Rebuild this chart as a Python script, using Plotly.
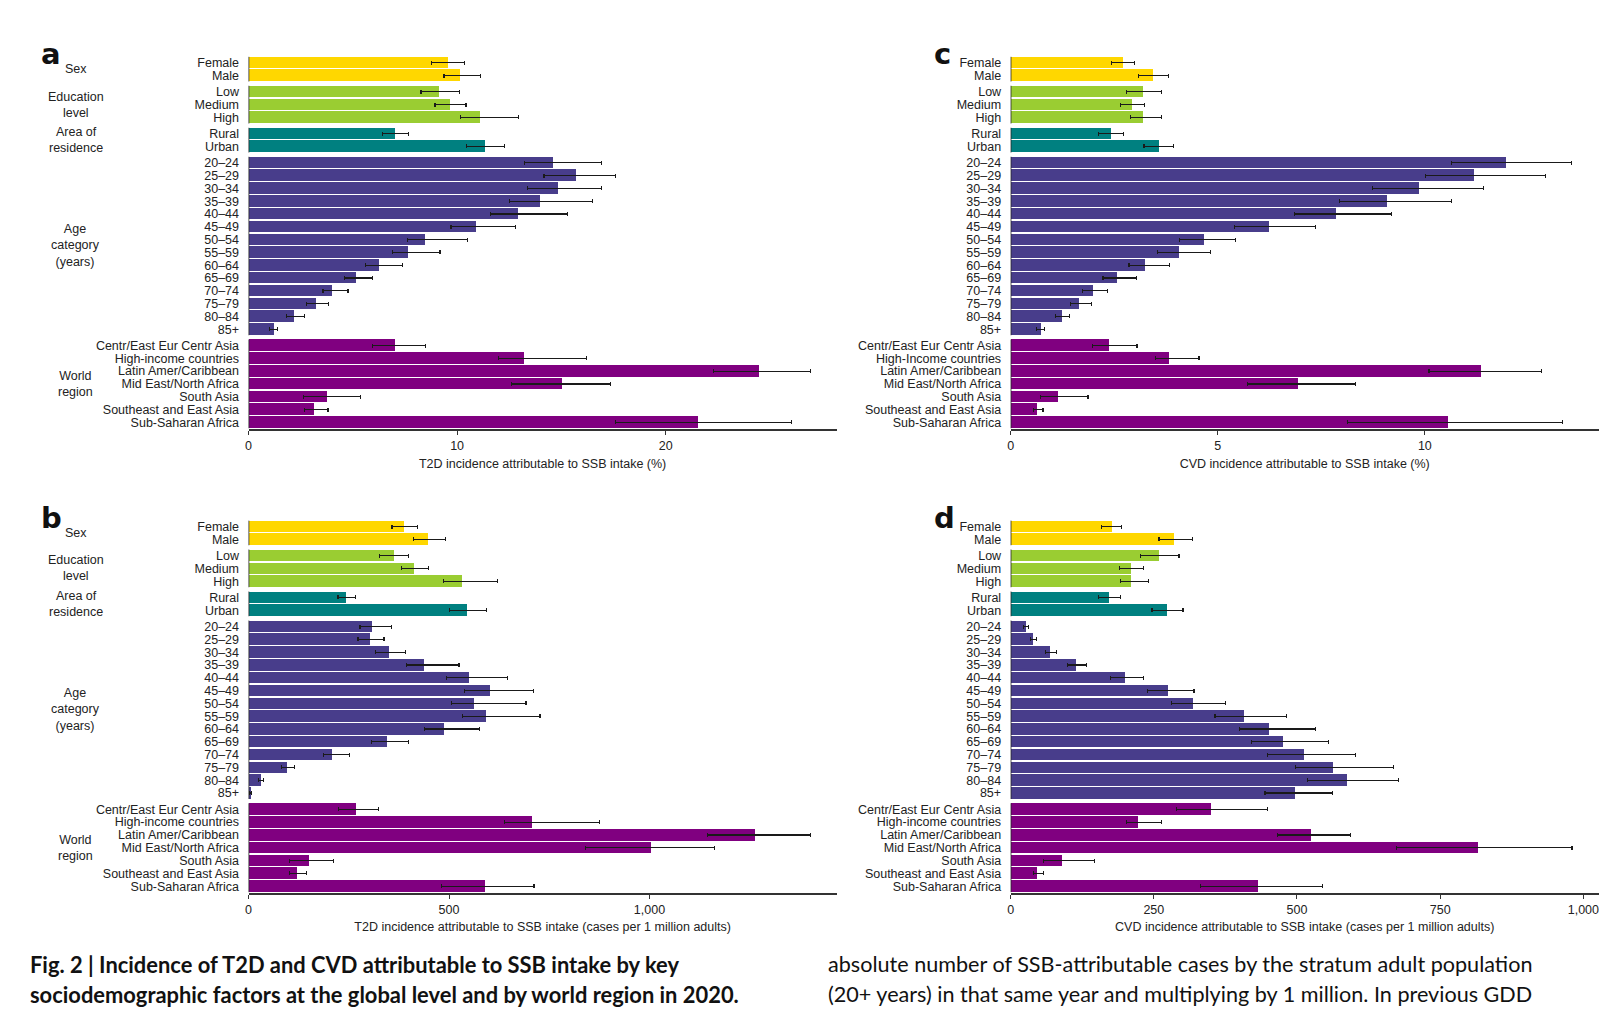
import plotly.graph_objects as go

# categories (top to bottom)
groups = ["Sex", "Education<br>level", "Area of<br>residence", "Age<br>category<br>(years)", "World<br>region"]
group_sizes = [2, 3, 2, 14, 7]
group_colors = ["#FFD700", "#9ACD32", "#008080", "#483D8B", "#800080"]

cats = ["Female", "Male", "Low", "Medium", "High", "Rural", "Urban",
        "20–24", "25–29", "30–34", "35–39", "40–44", "45–49", "50–54", "55–59",
        "60–64", "65–69", "70–74", "75–79", "80–84", "85+",
        "Centr/East Eur Centr Asia", "High-income countries", "Latin Amer/Caribbean",
        "Mid East/North Africa", "South Asia", "Southeast and East Asia", "Sub-Saharan Africa"]
cats_c = cats[:22] + ["High-Income countries"] + cats[23:]

# a: T2D (%)
a_val = [9.52, 10.12, 9.13, 9.66, 11.08, 6.99, 11.33,
         14.58, 15.69, 14.82, 13.95, 12.92, 10.89, 8.46, 7.64, 6.22, 5.11, 4.00, 3.20, 2.14, 1.18,
         6.99, 13.20, 24.43, 15.01, 3.73, 3.11, 21.52]
a_lo = [8.77, 9.37, 8.27, 8.94, 10.17, 6.41, 10.46,
        13.23, 14.17, 13.37, 12.53, 11.59, 9.71, 7.64, 6.89, 5.61, 4.60, 3.57, 2.77, 1.81, 0.99,
        5.93, 12.00, 22.29, 12.60, 2.63, 2.70, 17.59]
a_hi = [10.36, 11.11, 10.12, 10.43, 12.94, 7.66, 12.27,
        16.92, 17.59, 16.92, 16.51, 15.28, 12.80, 10.48, 9.18, 7.40, 5.95, 4.77, 3.83, 2.70, 1.40,
        8.48, 16.22, 26.94, 17.35, 5.35, 3.81, 26.02]

# c: CVD (%)
c_val = [2.70, 3.43, 3.19, 2.92, 3.19, 2.41, 3.58,
         11.96, 11.18, 9.85, 9.08, 7.85, 6.24, 4.65, 4.05, 3.24, 2.56, 1.99, 1.65, 1.24, 0.73,
         2.36, 3.81, 11.35, 6.93, 1.14, 0.63, 10.55]
c_lo = [2.44, 3.09, 2.80, 2.65, 2.90, 2.13, 3.22,
        10.64, 10.01, 8.74, 7.93, 6.85, 5.41, 4.08, 3.55, 2.86, 2.23, 1.73, 1.45, 1.09, 0.63,
        1.98, 3.50, 10.10, 5.71, 0.73, 0.56, 8.13]
c_hi = [2.99, 3.81, 3.65, 3.24, 3.64, 2.72, 3.94,
        13.54, 12.91, 11.42, 10.64, 9.19, 7.36, 5.43, 4.82, 3.83, 3.03, 2.34, 1.96, 1.43, 0.81,
        3.05, 4.55, 12.81, 8.32, 1.87, 0.78, 13.33]

# b: T2D (cases per 1 million adults)
b_val = [387, 447, 361, 412, 531, 243, 544,
         306, 301, 348, 437, 549, 601, 561, 591, 487, 343, 208, 96, 30, 5,
         266, 705, 1263, 1002, 149, 119, 589]
b_lo = [358, 412, 326, 382, 487, 223, 502,
        278, 273, 316, 393, 494, 538, 507, 533, 439, 307, 187, 83, 25, 3,
        224, 638, 1145, 841, 103, 103, 482]
b_hi = [422, 491, 398, 449, 620, 267, 593,
        357, 338, 392, 525, 645, 710, 692, 727, 576, 398, 252, 115, 38, 8,
        325, 875, 1401, 1163, 212, 144, 712]

# d: CVD (cases per 1 million adults)
d_val = [176, 284, 259, 210, 210, 171, 272,
         27, 39, 68, 114, 199, 274, 318, 406, 450, 475, 511, 563, 586, 496,
         349, 222, 523, 816, 89, 46, 432]
d_lo = [159, 259, 227, 190, 192, 153, 247,
        23, 35, 61, 100, 175, 239, 281, 357, 399, 421, 448, 498, 519, 444,
        290, 203, 466, 674, 57, 40, 332]
d_hi = [194, 317, 294, 232, 241, 192, 301,
        31, 45, 80, 133, 232, 320, 375, 481, 533, 555, 602, 668, 677, 562,
        449, 264, 594, 980, 146, 57, 545]

W, H = 1607, 1019
S = 1607 / 1568      # measured on a 1568-wide view of the picture
PAD = 8              # page body margin
GAP = 0.27
FONT = "Liberation Sans, Arial, sans-serif"
FS = 12.5


def X(px):
    return (px * S - PAD) / W


def Y(py):
    return 1 - (py * S - PAD) / H


# row positions with gaps between groups
pos, colors, spans = [], [], []
p = 0.0
for size, col in zip(group_sizes, group_colors):
    start = p
    for i in range(size):
        pos.append(p)
        colors.append(col)
        p += 1
    spans.append((start, p - 1))
    p += GAP

panels = [
    ("a", a_val, a_lo, a_hi, cats, (240, 815), (55, 419), 28.2, [0, 10, 20], ["0", "10", "20"],
     "T2D incidence attributable to SSB intake (%)"),
    ("b", b_val, b_lo, b_hi, cats, (240, 815), (508, 872), 1467, [0, 500, 1000], ["0", "500", "1,000"],
     "T2D incidence attributable to SSB intake (cases per 1 million adults)"),
    ("c", c_val, c_lo, c_hi, cats_c, (985, 1560), (55, 419), 14.2, [0, 5, 10], ["0", "5", "10"],
     "CVD incidence attributable to SSB intake (%)"),
    ("d", d_val, d_lo, d_hi, cats, (985, 1560), (508, 872), 1027, [0, 250, 500, 750, 1000],
     ["0", "250", "500", "750", "1,000"],
     "CVD incidence attributable to SSB intake (cases per 1 million adults)"),
]

fig = go.Figure()
annotations = []
for k, (name, val, lo, hi, labels, xpx, ypx, xmax, tv, tt, title) in enumerate(panels):
    n = "" if k == 0 else str(k + 1)
    xa, ya = "x" + n, "y" + n
    fig.add_trace(go.Bar(
        x=val, y=pos, orientation="h", width=0.9,
        marker=dict(color=colors, line=dict(width=0)),
        error_x=dict(type="data", symmetric=False,
                     array=[h - v for h, v in zip(hi, val)],
                     arrayminus=[v - l for v, l in zip(val, lo)],
                     color="#1a1a1a", thickness=1.2, width=2),
        xaxis=xa, yaxis=ya, showlegend=False, hoverinfo="skip"))
    # left spine, broken between groups
    sx, sy = [], []
    for s, e in spans:
        sx += [0, 0, None]
        sy += [s - 0.47, e + 0.47, None]
    fig.add_trace(go.Scatter(x=sx, y=sy, mode="lines", line=dict(color="#222", width=1.5),
                             xaxis=xa, yaxis=ya, showlegend=False, hoverinfo="skip"))

    fig.update_layout(**{
        "xaxis" + n: dict(domain=[X(xpx[0]), X(xpx[1])], anchor=ya, range=[0, xmax],
                          tickvals=tv, ticktext=tt, showline=True, linecolor="#333", linewidth=1.5,
                          ticks="outside", ticklen=4, tickcolor="#333", showgrid=False, zeroline=False,
                          tickfont=dict(size=FS, color="#222", family=FONT),
                          title=dict(text=title, font=dict(size=FS, color="#222", family=FONT), standoff=7)),
        "yaxis" + n: dict(domain=[Y(ypx[1]), Y(ypx[0])], anchor=xa, range=[pos[-1] + 0.52, -0.5],
                          tickvals=pos, ticktext=labels, showline=False, showgrid=False, zeroline=False,
                          ticks="outside", ticklen=6, tickcolor="rgba(0,0,0,0)",
                          tickfont=dict(size=FS, color="#222", family=FONT)),
    })

    # panel letter
    lx = 35 if name in "ab" else 908
    ly = 34.5 if name in "ac" else 487.5
    annotations.append(dict(text="<b>" + name + "</b>", x=X(lx), y=Y(ly), xref="paper", yref="paper",
                            xanchor="left", yanchor="top", showarrow=False,
                            font=dict(size=29, color="#111", family="DejaVu Sans, sans-serif")))
    # group labels only on left panels
    if name in "ab":
        for g, (s, e) in zip(groups, spans):
            annotations.append(dict(text=g, x=X(71), y=(s + e) / 2, xref="paper", yref=ya,
                                    xanchor="center", yanchor="middle", align="center", showarrow=False,
                                    font=dict(size=FS, color="#222", family=FONT)))

# caption text below the figure
cap = [
    ("<b>Fig. 2 | Incidence of T2D and CVD attributable to SSB intake by key</b>", 24, 942, 21.9),
    ("<b>sociodemographic factors at the global level and by world region in 2020.</b>", 24, 971, 21.9),
    ("absolute number of SSB-attributable cases by the stratum adult population", 805, 942, 21.6),
    ("(20+ years) in that same year and multiplying by 1 million. In previous GDD", 805, 971, 21.6),
]
for t, x, y, fs in cap:
    annotations.append(dict(text=t, x=X(x), y=Y(y), xref="paper", yref="paper",
                            xanchor="left", yanchor="middle", showarrow=False,
                            font=dict(size=fs, color="#111", family="Lato, sans-serif")))

fig.update_layout(width=W, height=H, margin=dict(l=0, r=0, t=0, b=0),
                  paper_bgcolor="white", plot_bgcolor="white", bargap=0,
                  annotations=annotations)

fig.write_html("out.html")
